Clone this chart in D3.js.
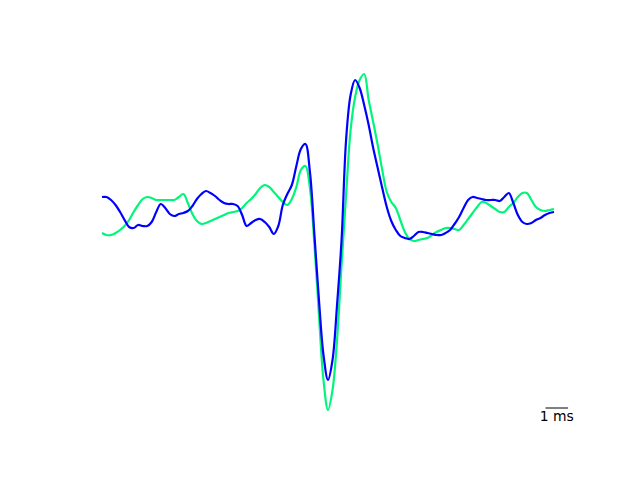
<!DOCTYPE html>
<html>
<head>
<meta charset="utf-8">
<script src="https://cdn.jsdelivr.net/npm/d3@7"></script>
<style>
  html, body { margin: 0; padding: 0; background: #fff; }
  svg { display: block; }
</style>
</head>
<body>
<svg id="chart" width="640" height="480"></svg>
<script>
// Time (ms) relative to the trough of the spike waveform
const timeMs = [
  -10.0, -9.8, -9.6, -9.4, -9.2, -9.0, -8.8, -8.6, -8.4, -8.2,
  -8.0, -7.8, -7.6, -7.4, -7.2, -7.0, -6.8, -6.6, -6.4, -6.2,
  -6.0, -5.8, -5.6, -5.4, -5.2, -5.0, -4.8, -4.6, -4.4, -4.2,
  -4.0, -3.8, -3.6, -3.4, -3.2, -3.0, -2.8, -2.6, -2.4, -2.2,
  -2.0, -1.8, -1.6, -1.4, -1.2, -1.0, -0.8, -0.6, -0.4, -0.2,
  0.0, 0.2, 0.4, 0.6, 0.8, 1.0, 1.2, 1.4, 1.6, 1.8,
  2.0, 2.2, 2.4, 2.6, 2.8, 3.0, 3.2, 3.4, 3.6, 3.8,
  4.0, 4.2, 4.4, 4.6, 4.8, 5.0, 5.2, 5.4, 5.6, 5.8,
  6.0, 6.2, 6.4, 6.6, 6.8, 7.0, 7.2, 7.4, 7.6, 7.8,
  8.0, 8.2, 8.4, 8.6, 8.8, 9.0, 9.2, 9.4, 9.6, 9.8,
  10.0
];

// Waveform A (blue), µV
const waveBlue = [
  18, 18, 15, 10, 3, -5, -12, -13, -10, -11,
  -11, -7, 3, 11, 7, 1, -1, 1, 2, 4,
  9, 16, 21, 24, 22, 19, 15, 12, 11, 11,
  9, 0, -11, -8, -5, -4, -7, -12, -19, -11,
  10, 21, 30, 49, 66, 71, 43, -20, -85, -140,
  -165, -145, -90, -25, 75, 120, 135, 127, 110, 90,
  67, 47, 27, 8, -6, -15, -21, -23, -24, -21,
  -17, -17, -18, -19, -20, -20, -18, -15, -9, -2,
  7, 15, 18, 17, 16, 15, 15, 15, 14, 18,
  22, 12, 0, -7, -9, -8, -5, -3, 0, 2,
  3
];

// Waveform B (green), µV
const waveGreen = [
  -18, -20, -20, -18, -15, -11, -5, 3, 10, 16,
  18, 17, 15, 15, 15, 15, 15, 18, 21, 12,
  1, -6, -9, -8, -6, -4, -2, 0, 2, 3,
  4, 7, 12, 16, 21, 27, 30, 28, 23, 18,
  13, 10, 16, 28, 45, 49, 27, -30, -100, -165,
  -195, -175, -125, -50, 20, 85, 118, 135, 141, 115,
  93, 70, 45, 23, 13, 7, -5, -17, -24, -26,
  -25, -24, -23, -20, -17, -15, -13, -13, -14, -15,
  -10, -4, 2, 8, 13, 12, 9, 6, 3, 3,
  8, 12, 18, 22, 22, 15, 8, 5, 4, 5,
  6
];

const seriesNames = ["Unit A", "Unit B"];
const seriesColors = ["#0000ff", "#00f57a"];
const scaleBarLabel = "1 ms";
const scaleBarLength = 1; // ms

const svg = d3.select("#chart");

const x = d3.scaleLinear().domain([-10, 10]).range([102, 554]);
const y = d3.scaleLinear().domain([-200, 200]).range([415, 15]);

const line = d3.line()
  .x((d, i) => x(timeMs[i]))
  .y(d => y(d))
  .curve(d3.curveCatmullRom.alpha(0.5));

// green drawn first, blue on top
const draws = [
  { values: waveGreen, color: seriesColors[1], name: seriesNames[1] },
  { values: waveBlue, color: seriesColors[0], name: seriesNames[0] }
];

svg.selectAll("path.wave")
  .data(draws)
  .join("path")
  .attr("class", "wave")
  .attr("fill", "none")
  .attr("stroke", d => d.color)
  .attr("stroke-width", 2.2)
  .attr("stroke-linejoin", "round")
  .attr("stroke-linecap", "butt")
  .attr("d", d => line(d.values));

// scale bar
const barLen = x(scaleBarLength) - x(0);
const barX0 = 545.5;
const barY = 408;
const bar = svg.append("g").attr("class", "scalebar");
bar.append("line")
  .attr("x1", barX0)
  .attr("x2", barX0 + barLen)
  .attr("y1", barY)
  .attr("y2", barY)
  .attr("stroke", "#000")
  .attr("stroke-width", 1);
bar.append("text")
  .attr("x", barX0 + barLen / 2)
  .attr("y", barY + 12.5)
  .attr("text-anchor", "middle")
  .attr("font-family", "DejaVu Sans, sans-serif")
  .attr("font-size", "13.9px")
  .attr("fill", "#000")
  .text(scaleBarLabel);
</script>
</body>
</html>
